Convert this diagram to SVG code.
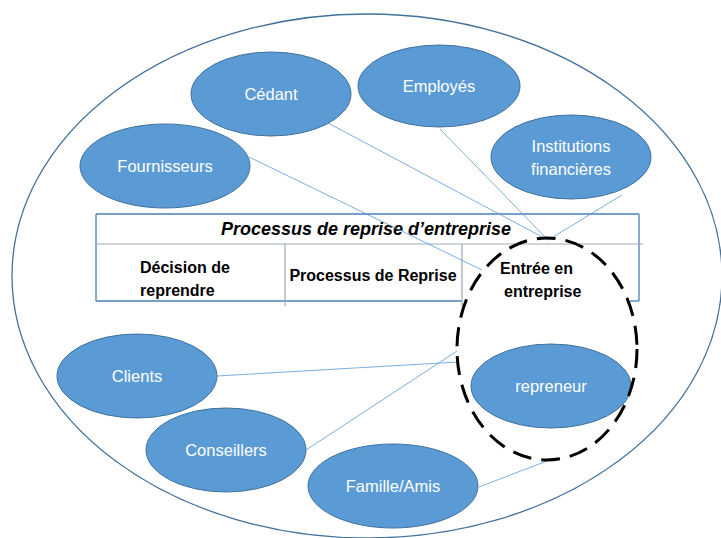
<svg xmlns="http://www.w3.org/2000/svg" width="721" height="538" viewBox="0 0 721 538">
<style>
.node{fill:#5B9BD5;stroke:#41719C;stroke-width:1}
.lbl{font-family:"Liberation Sans",Arial,sans-serif;font-size:16.5px;fill:#FFFFFF;text-anchor:middle}
.conn{stroke:#5B9BD5;stroke-width:0.8;fill:none}
.cell{font-family:"Liberation Sans",Arial,sans-serif;font-size:16px;font-weight:bold;fill:#000000}
.tb{stroke:#4A7EBB;stroke-width:1.3;fill:none}
.tg{stroke:#9EA9B8;stroke-width:1.2;fill:none}
</style>
<rect width="721" height="538" fill="#FFFFFF"/>
<ellipse id="environment" cx="367" cy="276" rx="355" ry="262" fill="none" stroke="#41719C" stroke-width="1.3"/>
<g id="table">
  <line class="tb" x1="96" y1="214" x2="639" y2="214"/>
  <line class="tb" x1="96" y1="214" x2="96" y2="301"/>
  <line class="tb" x1="639" y1="214" x2="639" y2="301"/>
  <line class="tb" x1="96" y1="301" x2="462" y2="301"/>
  <line class="tb" x1="630" y1="301" x2="639" y2="301"/>
  <line class="tg" x1="96" y1="244" x2="643" y2="244"/>
  <line class="tg" x1="285" y1="244" x2="285" y2="306"/>
  <line class="tg" x1="462" y1="244" x2="462" y2="306"/>
  <text x="366" y="235" font-family="'Liberation Sans',Arial,sans-serif" font-size="18px" font-weight="bold" font-style="italic" text-anchor="middle" fill="#000000">Processus de reprise d’entreprise</text>
  <text class="cell" x="140" y="273">Décision de</text>
  <text class="cell" x="140" y="296">reprendre</text>
  <text class="cell" x="373" y="281" text-anchor="middle">Processus de Reprise</text>
  <text class="cell" x="500" y="274">Entrée en</text>
  <text class="cell" x="504" y="297">entreprise</text>
</g>
<g id="connectors">
  <line class="conn" x1="328" y1="123" x2="548" y2="240"/>
  <line class="conn" x1="440" y1="129" x2="548" y2="240"/>
  <line class="conn" x1="622" y1="195" x2="548" y2="240"/>
  <line class="conn" x1="249" y1="157" x2="482" y2="270"/>
  <line class="conn" x1="217" y1="376" x2="458" y2="362"/>
  <line class="conn" x1="306" y1="450" x2="457" y2="351"/>
  <line class="conn" x1="479" y1="487" x2="547" y2="461"/>
</g>
<g id="cedant"><ellipse class="node" cx="271" cy="94" rx="80" ry="42"/><text class="lbl" x="271" y="100">Cédant</text></g>
<g id="employes"><ellipse class="node" cx="439" cy="86" rx="81" ry="41"/><text class="lbl" x="439" y="92">Employés</text></g>
<g id="institutions"><ellipse class="node" cx="571" cy="157" rx="80" ry="42"/><text class="lbl" x="571" y="152">Institutions</text><text class="lbl" x="571" y="175">financières</text></g>
<g id="fournisseurs"><ellipse class="node" cx="165" cy="166" rx="85" ry="42"/><text class="lbl" x="165" y="172">Fournisseurs</text></g>
<g id="clients"><ellipse class="node" cx="137" cy="376" rx="80" ry="42"/><text class="lbl" x="137" y="382">Clients</text></g>
<g id="conseillers"><ellipse class="node" cx="226" cy="450" rx="80" ry="42"/><text class="lbl" x="226" y="456">Conseillers</text></g>
<g id="famille"><ellipse class="node" cx="393" cy="486" rx="85" ry="42"/><text class="lbl" x="393" y="492">Famille/Amis</text></g>
<g id="repreneur"><ellipse class="node" cx="551" cy="386" rx="80" ry="42"/><text class="lbl" x="551" y="392">repreneur</text></g>
<ellipse id="focus" cx="547" cy="349" rx="90" ry="111" fill="none" stroke="#000000" stroke-width="3" stroke-dasharray="19 10"/>
</svg>
